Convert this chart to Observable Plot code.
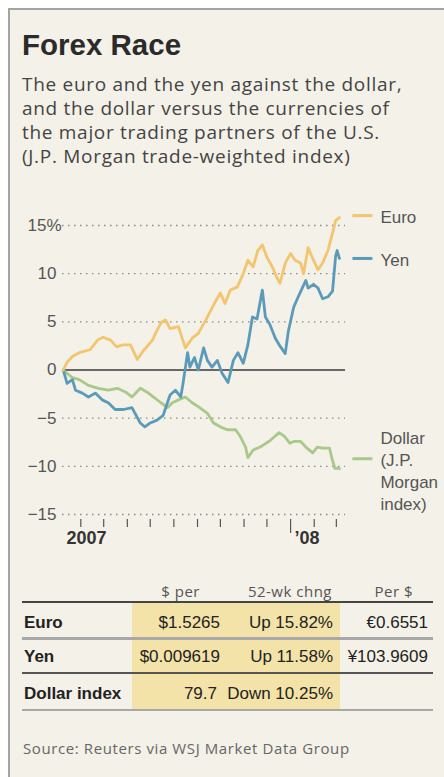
<!DOCTYPE html>
<html>
<head>
<meta charset="utf-8">
<script src="https://cdn.jsdelivr.net/npm/d3@7"></script>
<script src="https://cdn.jsdelivr.net/npm/@observablehq/plot@0.6"></script>
<style>
  html, body { margin: 0; padding: 0; background: #fff; }
  body { width: 444px; height: 777px; position: relative; overflow: hidden;
         font-family: "Liberation Sans", Arial, sans-serif; }
  #box { position: absolute; left: 8px; top: 8px; width: 440px; height: 775px;
         background: #f4f1e8; border-left: 2px solid #a3a3a3; border-top: 2px solid #a3a3a3; }
  .abs { position: absolute; white-space: nowrap; }
  #title { left: 22px; top: 28px; font-size: 29.5px; font-weight: bold; line-height: 34px; color: #2b2b2b; }
  #subtitle { left: 22px; top: 72px; font-family: "Open Sans", sans-serif; font-size: 19px; letter-spacing: 0.7px;
              line-height: 24px; color: #444; white-space: normal; width: 422px; }
  #chart { position: absolute; left: 0; top: 190px; }
  .hdr { font-family: "Open Sans", sans-serif; font-size: 15px; letter-spacing: 0.5px; line-height: 20px; color: #555; text-align: right; width: 140px; }
  .cell { font-size: 17px; line-height: 22px; color: #222; text-align: right; width: 140px; }
  .lbl { font-size: 17px; line-height: 22px; color: #222; font-weight: bold; }
  .rule { position: absolute; left: 22px; width: 411px; }
  #source { left: 23px; top: 738px; font-family: "Open Sans", sans-serif; font-size: 15px; letter-spacing: 0.6px; line-height: 20px; color: #666; }
</style>
</head>
<body>
<div id="box"></div>
<div id="title" class="abs">Forex Race</div>
<div id="subtitle" class="abs">The euro and the yen against the dollar,<br>and the dollar versus the currencies of<br>the major trading partners of the U.S.<br>(J.P. Morgan trade-weighted index)</div>
<div id="chart"></div>
<div id="table"></div>
<div id="source" class="abs">Source: Reuters via WSJ Market Data Group</div>
<script>
// ---------- data (percent change since start) ----------
const euro = [
  ["2007-03-09",0],["2007-03-14",0.8],["2007-03-21",1.4],["2007-03-30",1.8],["2007-04-13",2.1],
  ["2007-04-23",3.1],["2007-04-30",3.4],["2007-05-10",3.1],["2007-05-18",2.4],["2007-05-26",2.6],
  ["2007-06-05",2.6],["2007-06-14",1.1],["2007-06-22",2.0],["2007-07-04",3.1],["2007-07-08",3.8],
  ["2007-07-15",4.9],["2007-07-21",5.2],["2007-07-27",4.3],["2007-08-07",4.5],["2007-08-16",2.3],
  ["2007-08-25",3.3],["2007-09-02",3.8],["2007-09-12",5.2],["2007-09-23",6.9],["2007-10-01",8.0],
  ["2007-10-07",6.9],["2007-10-14",8.3],["2007-10-23",8.6],["2007-10-31",10.0],["2007-11-06",11.4],
  ["2007-11-13",10.7],["2007-11-19",12.4],["2007-11-25",13.0],["2007-12-01",11.7],["2007-12-08",10.7],
  ["2007-12-14",9.6],["2007-12-18",9.0],["2007-12-25",11.1],["2008-01-01",12.1],["2008-01-07",11.4],
  ["2008-01-14",11.1],["2008-01-18",10.0],["2008-01-24",12.7],["2008-01-31",11.4],["2008-02-06",10.4],
  ["2008-02-12",11.1],["2008-02-19",12.4],["2008-02-25",14.2],["2008-02-29",15.5],["2008-03-05",15.82]
];
const yen = [
  ["2007-03-09",0],["2007-03-14",-1.4],["2007-03-21",-1.0],["2007-03-25",-2.1],["2007-04-03",-2.4],
  ["2007-04-11",-2.8],["2007-04-20",-2.4],["2007-04-29",-3.1],["2007-05-07",-3.4],["2007-05-16",-4.1],
  ["2007-05-27",-4.1],["2007-06-07",-3.9],["2007-06-18",-5.5],["2007-06-24",-5.9],["2007-07-01",-5.5],
  ["2007-07-10",-5.2],["2007-07-18",-4.7],["2007-07-27",-2.6],["2007-08-03",-2.1],["2007-08-10",-2.8],
  ["2007-08-13",-1.4],["2007-08-19",1.8],["2007-08-22",0.3],["2007-08-28",1.3],["2007-09-02",0.0],
  ["2007-09-09",2.3],["2007-09-14",1.0],["2007-09-20",0.3],["2007-09-27",1.0],["2007-10-03",-0.3],
  ["2007-10-11",-1.3],["2007-10-18",1.0],["2007-10-24",1.8],["2007-10-31",0.7],["2007-11-06",2.6],
  ["2007-11-12",5.5],["2007-11-18",5.3],["2007-11-25",8.3],["2007-11-29",5.5],["2007-12-05",4.7],
  ["2007-12-12",3.3],["2007-12-18",2.5],["2007-12-25",1.7],["2007-12-29",4.0],["2008-01-05",6.5],
  ["2008-01-11",7.6],["2008-01-21",9.3],["2008-01-24",8.5],["2008-01-31",8.9],["2008-02-06",8.5],
  ["2008-02-12",7.4],["2008-02-19",7.6],["2008-02-25",8.2],["2008-02-29",11.8],["2008-03-02",12.4],
  ["2008-03-05",11.58]
];
const dollar = [
  ["2007-03-09",0],["2007-03-21",-0.8],["2007-03-30",-1.0],["2007-04-11",-1.6],["2007-04-24",-1.9],
  ["2007-05-07",-2.1],["2007-05-19",-1.9],["2007-05-30",-2.3],["2007-06-07",-2.8],["2007-06-18",-1.9],
  ["2007-06-27",-2.3],["2007-07-05",-2.8],["2007-07-15",-3.4],["2007-07-24",-3.9],["2007-07-30",-3.4],
  ["2007-08-07",-3.1],["2007-08-16",-2.8],["2007-08-25",-3.4],["2007-09-02",-3.8],["2007-09-14",-4.5],
  ["2007-09-22",-5.5],["2007-10-01",-5.9],["2007-10-10",-6.2],["2007-10-21",-6.2],["2007-10-27",-6.9],
  ["2007-11-03",-8.0],["2007-11-06",-9.1],["2007-11-13",-8.3],["2007-11-22",-8.0],["2007-12-04",-7.4],
  ["2007-12-17",-6.5],["2007-12-24",-6.9],["2007-12-31",-7.6],["2008-01-06",-7.4],["2008-01-14",-7.4],
  ["2008-01-21",-8.0],["2008-01-30",-8.6],["2008-02-05",-8.0],["2008-02-12",-8.1],["2008-02-21",-8.1],
  ["2008-02-24",-9.1],["2008-02-28",-10.2],["2008-03-02",-10.2],["2008-03-05",-10.25]
];
const yTicks = [-15, -10, -5, 0, 5, 10, 15];
const monthTicks = ["2007-04-01","2007-05-01","2007-06-01","2007-07-01","2007-08-01","2007-09-01",
  "2007-10-01","2007-11-01","2007-12-01","2008-02-01","2008-03-01"];
const yearTicks = ["2008-01-01"];
const yearLabels = [{date: "2007-03-08", label: "2007"}, {date: "2008-01-01", label: "\u201908"}];
const xDomain = ["2007-03-08", "2008-03-13"];
const tableHeader = ["$ per", "52-wk chng", "Per $"];
const tableRows = [
  ["Euro", "$1.5265", "Up 15.82%", "\u20ac0.6551"],
  ["Yen", "$0.009619", "Up 11.58%", "\u00a5103.9609"],
  ["Dollar index", "79.7", "Down 10.25%", ""]
];

// ---------- styles ----------
const series = [
  {name: "Dollar", data: dollar, color: "#a9c98a", label: "Dollar\n(J.P.\nMorgan\nindex)", swatchDy: -10, labelDy: 1},
  {name: "Yen", data: yen, color: "#5b9bb9", label: "Yen", swatchDy: 0, labelDy: 0},
  {name: "Euro", data: euro, color: "#f2c56e", label: "Euro", swatchDy: -2, labelDy: -2}
];
const hline = {draw(ctx, size) { const w = Math.sqrt(size / Math.PI); ctx.moveTo(-w, 0); ctx.lineTo(w, 0); }};
const fmt = d => d < 0 ? "\u2212" + Math.abs(d) : String(d);
const parse = s => new Date(s + "T00:00:00Z");

const marks = [
  Plot.gridY(yTicks.filter(d => d !== 0), {stroke: "#8a8a8a", strokeOpacity: 1, strokeWidth: 1.3, strokeDasharray: "1.5 4.5"}),
  Plot.ruleY([0], {stroke: "#3a3a3a", strokeWidth: 1.5}),
  Plot.axisY(yTicks.filter(d => d !== 15), {tickSize: 0, tickPadding: 6, tickFormat: fmt, fontSize: 17, fill: "#555", label: null}),
  Plot.axisY([15], {tickSize: 0, tickPadding: 1, tickFormat: d => d + "%", fontSize: 17, fill: "#555", label: null}),
  Plot.axisX(monthTicks.map(parse), {tickSize: 8, dy: 5, tickFormat: () => "", stroke: "#555", strokeWidth: 1.2, label: null}),
  Plot.axisX(yearTicks.map(parse), {tickSize: 14, dy: 5, tickFormat: () => "", stroke: "#555", strokeWidth: 1.2, label: null}),
  Plot.text(yearLabels, {x: d => parse(d.date), text: "label", frameAnchor: "bottom", textAnchor: "start",
    dx: 4, dy: 29, fontSize: 18, fontWeight: "bold", fill: "#333"})
];
for (const s of series) {
  const rows = s.data.map(([d, v]) => ({date: parse(d), value: v}));
  const last = rows[rows.length - 1];
  marks.push(Plot.line(rows, {x: "date", y: "value", stroke: s.color, strokeWidth: 2.8, strokeLinejoin: "round"}));
  marks.push(Plot.dot([last], {x: "date", y: "value", symbol: hline, r: 10, stroke: s.color, strokeWidth: 3, dx: 23, dy: s.swatchDy}));
  marks.push(Plot.text([last], {x: "date", y: "value", text: () => s.label, textAnchor: "start", dx: 41, dy: s.labelDy,
    fontSize: 17, fill: "#555", lineHeight: 1.3}));
}

const chart = Plot.plot({
  width: 444, height: 370,
  marginLeft: 62, marginRight: 99, marginTop: 35, marginBottom: 46,
  x: {type: "utc", domain: xDomain.map(parse)},
  y: {domain: [-15, 15]},
  style: {background: "transparent", fontFamily: "'Liberation Sans', Arial, sans-serif", overflow: "visible"},
  marks
});
document.getElementById("chart").appendChild(chart);

// ---------- table ----------
const T = document.getElementById("table");
function add(cls, text, css) {
  const el = document.createElement("div");
  el.className = cls;
  el.textContent = text;
  Object.assign(el.style, css);
  T.appendChild(el);
  return el;
}
add("abs", "", {left: "132px", top: "603px", width: "208px", height: "106px", background: "#f4e3a8"});
const hdrRight = [200, 332, 413];
tableHeader.forEach((h, i) => add("abs hdr", h, {left: (hdrRight[i] - 140) + "px", top: "581px"}));
add("rule", "", {top: "601px", height: "2px", background: "#444"});
add("rule", "", {top: "637px", height: "3px", background: "#a8a8a8"});
add("rule", "", {top: "672px", height: "2px", background: "#555"});
add("rule", "", {top: "709px", height: "2px", background: "#a8a8a8"});
const rowTop = [612, 646, 683];
const colRight = [[220, 333, 428], [220, 333, 428], [217, 333, 428]];
tableRows.forEach((r, i) => {
  add("abs lbl", r[0], {left: "24px", top: rowTop[i] + "px"});
  for (let j = 1; j < 4; j++) {
    if (r[j]) add("abs cell", r[j], {left: (colRight[i][j - 1] - 140) + "px", top: rowTop[i] + "px"});
  }
});
</script>
</body>
</html>
